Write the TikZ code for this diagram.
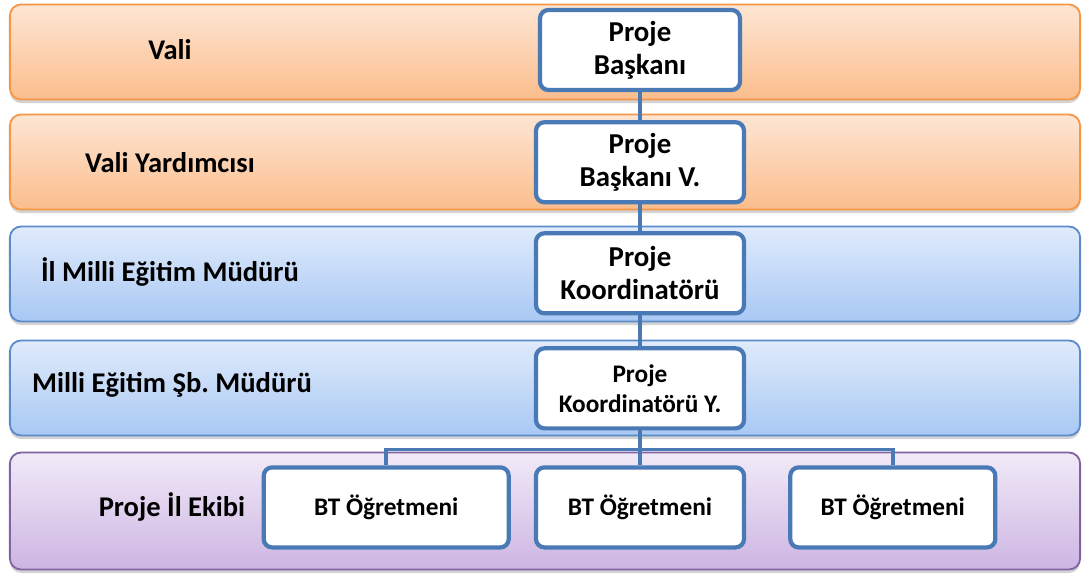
\documentclass[tikz,border=0pt]{standalone}
\usepackage{fontspec}
\setmainfont{Carlito}
\usepackage{xcolor}
\usetikzlibrary{positioning, shadows, calc}

\definecolor{orline}{HTML}{F79646}
\definecolor{ortop}{HTML}{FDE6D4}
\definecolor{orbot}{HTML}{FBBD8C}
\definecolor{blline}{HTML}{5B8BCB}
\definecolor{bltop}{HTML}{E0EBFB}
\definecolor{blbot}{HTML}{A8C8F4}
\definecolor{puline}{HTML}{8064A2}
\definecolor{putop}{HTML}{F1EAF8}
\definecolor{pubot}{HTML}{CDB5E2}
\definecolor{boxline}{HTML}{4A7AB5}

\begin{document}
\begin{tikzpicture}[
    x=0.025cm, y=-0.025cm,
    band/.style={
        rectangle,
        rounded corners=8pt,
        line width=1.3pt,
        minimum width=26.75cm,
        minimum height=2.375cm,
        drop shadow={shadow xshift=0pt, shadow yshift=-2.5pt, opacity=0.35}
    },
    orband/.style={band, draw=orline, top color=ortop, bottom color=orbot},
    blband/.style={band, draw=blline, top color=bltop, bottom color=blbot},
    puband/.style={band, draw=puline, top color=putop, bottom color=pubot},
    label/.style={
        font=\fontsize{20.3}{24}\selectfont\bfseries
    },
    post/.style={
        rectangle,
        draw=boxline,
        line width=3pt,
        fill=white,
        rounded corners=6pt,
        align=center,
        minimum width=5.2cm,
        minimum height=2cm,
        inner sep=2pt,
        font=\fontsize{20.5}{23.5}\selectfont\bfseries
    },
    small/.style={
        font=\fontsize{18}{21.3}\selectfont\bfseries
    },
    line/.style={
        draw=boxline,
        line width=2.6pt
    }
]
\useasboundingbox (0,0) rectangle (1084,575);

% Bands
\node [orband] (band1) at (545,52) {};
\node [orband] (band2) at (545,162) {};
\node [blband] (band3) at (545,274) {};
\node [blband] (band4) at (545,388) {};
\node [puband, minimum height=2.925cm] (band5) at (545,511) {};

% Band labels
\node [label] (vali) at (170,50) {Vali};
\node [label] (valiy) at (170,163) {Vali Yardımcısı};
\node [label] (ilmem) at (170,272) {İl Milli Eğitim Müdürü};
\node [label] (sbmud) at (172,385) {Milli Eğitim Şb.\ Müdürü};
\node [label] (ekip) at (172,507) {Proje İl Ekibi};

% Nodes
\node [post, minimum width=5cm] (pb) at (640,50) {Proje\\Başkanı};
\node [post, below=0.7cm of pb] (pbv) {Proje\\Başkanı V.};
\node [post, below=0.67cm of pbv] (pk) {Proje\\Koordinatörü};
\node [post, small, below=0.77cm of pk] (pky) {Proje\\Koordinatörü Y.};
\node [post, small, below=0.87cm of pky] (bt2) {BT Öğretmeni};
\node [post, small, minimum width=6.125cm, left=0.575cm of bt2] (bt1) {BT Öğretmeni};
\node [post, small, minimum width=5.125cm, right=1.05cm of bt2] (bt3) {BT Öğretmeni};

% Edges
\coordinate (split) at ($(pky.south)+(0,19)$);
\path [line] (pb) -- (pbv);
\path [line] (pbv) -- (pk);
\path [line] (pk) -- (pky);
\path [line] (pky) -- (split);
\path [line] (split) -- (bt2);
\path [line] (bt1.north) |- (split) -| (bt3.north);

\end{tikzpicture}
\end{document}
